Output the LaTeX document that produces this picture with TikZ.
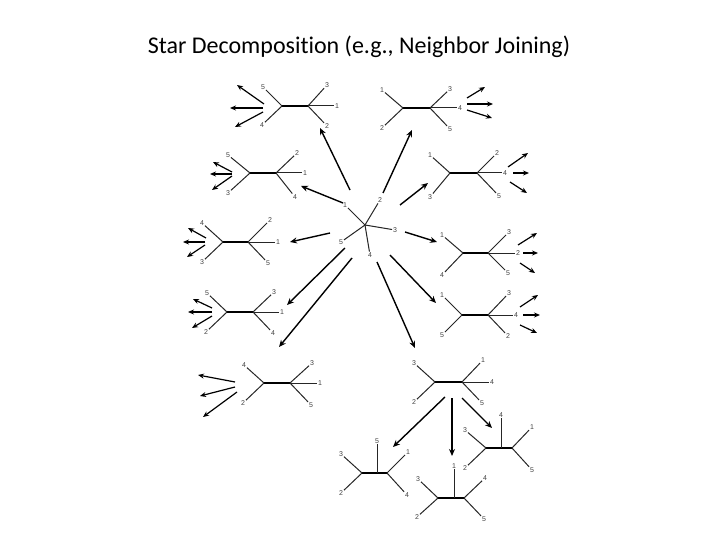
\documentclass[tikz,border=0pt]{standalone}
\usepackage{fontspec}
\setmainfont{Carlito}[Ligatures=NoCommon]
\newfontfamily\labelfont{Liberation Sans}
\usetikzlibrary{arrows.meta}

\tikzset{
  leaf/.style={inner sep=0.8pt, font=\labelfont\fontsize{7}{8}\selectfont, text=black!75},
  fork/.style={line width=1.5pt},
  twig/.style={line width=1pt, black!85},
  addarrow/.style={line width=1.2pt, -{Stealth[length=6pt,width=5pt]}},
  splitarrow/.style={line width=1.4pt, -{Stealth[length=7pt,width=6pt]}},
}

% four-leaf-plus-one tree: name, left fork, right fork, leaves
\newcommand{\qtree}[5]{%
  \coordinate (#1l) at (#2);
  \coordinate (#1r) at (#3);
  \draw[fork] (#1l) -- (#1r);
  \foreach \x/\y/\t in {#4}{\node[leaf] (#1-\t) at (\x,\y) {\t}; \draw[twig] (#1l) -- (#1-\t);}
  \foreach \x/\y/\t in {#5}{\node[leaf] (#1-\t) at (\x,\y) {\t}; \draw[twig] (#1r) -- (#1-\t);}
}
% resolved tree with a middle leaf
\newcommand{\ptree}[7]{%
  \coordinate (#1l) at (#2);
  \coordinate (#1m) at (#3);
  \coordinate (#1r) at (#4);
  \draw[fork] (#1l) -- (#1r);
  \foreach \x/\y/\t in {#5}{\node[leaf] (#1-\t) at (\x,\y) {\t}; \draw[twig] (#1l) -- (#1-\t);}
  \foreach \x/\y/\t in {#6}{\node[leaf] (#1-\t) at (\x,\y) {\t}; \draw[twig] (#1m) -- (#1-\t);}
  \foreach \x/\y/\t in {#7}{\node[leaf] (#1-\t) at (\x,\y) {\t}; \draw[twig] (#1r) -- (#1-\t);}
}

\begin{document}
\begin{tikzpicture}[x=1pt,y=-1pt]
\useasboundingbox (0,0) rectangle (720,540);

\node (title) at (359,47) {\fontsize{24}{28}\selectfont Star Decomposition (e.g., Neighbor Joining)};

% the star
\coordinate (hub) at (365,225);
\foreach \x/\y/\t in {345/205/1,380/200/2,395/230/3,370/255/4,341/242/5}
  {\node[leaf] (s\t) at (\x,\y) {\t}; \draw[twig] (hub) -- (s\t);}

% first round of pairings
\qtree{ta}{282,106}{308,106}{263/87/5,262/125/4}{327/85/3,337/106/1,327/126/2}
\qtree{tb}{403,108}{430,108}{382/90/1,382/128/2}{450/89/3,460/108/4,450/129/5}
\qtree{tc}{250,173}{276,173}{228/155/5,228/193/3}{297/153/2,305/173/1,295/197/4}
\qtree{td}{450,173}{477,173}{430/155/1,430/197/3}{497/153/2,505/173/4,499/196/5}
\qtree{te}{223,242}{248,242}{202/223/4,202/262/3}{270/220/2,278/242/1,268/263/5}
\qtree{tf}{463,253}{488,253}{442/235/1,442/275/4}{509/232/3,518/253/2,508/273/5}
\qtree{tg}{227,312}{253,312}{207/293/5,206/332/2}{274/292/3,282/312/1,273/333/4}
\qtree{th}{462,315}{488,315}{442/295/1,442/335/5}{509/293/3,516/315/4,508/336/2}
\qtree{ti}{264,383}{290,383}{244/365/4,243/403/2}{312/363/3,320/383/1,311/405/5}
\qtree{tj}{435,382}{462,382}{414/363/3,414/402/2}{483/360/1,492/382/4,482/403/5}

% second round
\ptree{tk}{362,473}{377,473}{387,473}{341/454/3,341/493/2}{377/441/5}{408/452/1,407/495/4}
\ptree{tm}{438,498}{454,498}{464,498}{418/479/3,417/517/2}{454/466/1}{485/478/4,484/519/5}
\ptree{tn}{486,448}{501,448}{512,448}{465/430/3,465/468/2}{501/415/4}{532/427/1,532/470/5}

% arrows out of the star
\foreach \i/\sx/\sy/\ex/\ey in {1/350/190/320/128,2/383/193/412/130,3/343/203/301/186,
    4/400/205/428/183,5/330/233/290/242,6/405/232/437/242,7/345/248/287/305,
    8/390/255/436/303,9/352/258/279/347,10/377/262/415/348,
    11/445/397/393/447,12/452/398/452/456,13/462/398/492/428}
  {\coordinate (from\i) at (\sx,\sy); \coordinate (to\i) at (\ex,\ey);
   \draw[splitarrow] (from\i) -- (to\i);}

% fans of further steps
\foreach \i/\sx/\sy/\ex/\ey in {a1/264/104/237/85,a2/263/108/230/108,a3/263/112/235/127,
    b1/467/98/485/87,b2/467/104/493/104,b3/467/110/492/118,
    c1/232/172/213/162,c2/232/174/210/174,c3/232/176/212/190,
    d1/508/167/528/153,d2/513/173/529/173,d3/510/182/527/193,
    e1/206/238/188/228,e2/205/242/183/242,e3/205/245/187/257,
    f1/518/245/537/233,f2/523/253/538/253,f3/520/263/535/273,
    g1/212/308/193/299,g2/212/312/188/312,g3/212/316/192/328,
    h1/520/307/538/295,h2/523/315/540/315,h3/520/325/537/333,
    i1/235/382/198/375,i2/235/387/200/396,i3/237/392/203/417}
  {\coordinate (from\i) at (\sx,\sy); \coordinate (to\i) at (\ex,\ey);
   \draw[addarrow] (from\i) -- (to\i);}
\end{tikzpicture}
\end{document}
